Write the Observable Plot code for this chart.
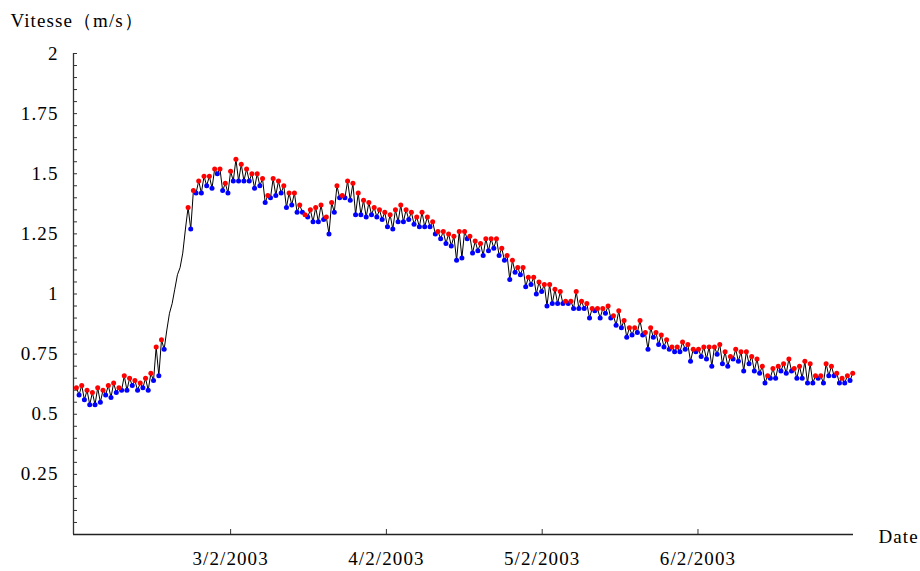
<!DOCTYPE html>
<html><head><meta charset="utf-8">
<script src="https://cdn.jsdelivr.net/npm/d3@7"></script>
<script src="https://cdn.jsdelivr.net/npm/@observablehq/plot@0.6"></script>
<style>html,body{margin:0;padding:0;background:#fff;}</style>
</head><body><div id="chart"></div>
<script>
// Tick labels
const yTicks = [0.25, 0.5, 0.75, 1, 1.25, 1.5, 1.75, 2];
const dateLabels = ["3/2/2003", "4/2/2003", "5/2/2003", "6/2/2003"];
const datePos = [58, 116.6, 175.2, 233.8];   // sample index where each date falls
const xDomain = [-1.1, 292.3];

// Tidal peak velocities (m/s), in time order; red = pics, blue = creux
const pics1 = [0.61,0.62,0.60,0.59,0.61,0.60,0.62,0.63,0.61,0.66,0.65,0.64,0.63,0.65,0.67,0.78,0.81];
const creux1 = [0.58,0.56,0.54,0.54,0.55,0.58,0.57,0.59,0.60,0.60,0.62,0.60,0.61,0.60,0.64,0.66,0.77];
const montee = [0.85,0.92,0.96,1.02,1.08,1.11,1.17,1.27];
const pics2 = [1.36,1.43,1.47,1.49,1.49,1.52,1.52,1.46,1.51,1.56,1.54,1.52,1.50,1.50,1.48,1.41,1.48,1.47,1.45,1.42,1.42,1.37,1.33,1.35,1.36,1.37];
const creux2 = [1.27,1.42,1.42,1.45,1.44,1.50,1.43,1.42,1.47,1.47,1.47,1.47,1.44,1.45,1.38,1.40,1.41,1.42,1.36,1.37,1.34,1.34,1.32,1.30,1.30,1.31];
const pics3 = [1.32,1.38,1.45,1.41,1.47,1.46,1.42,1.39,1.38,1.36,1.35,1.34,1.33,1.35,1.37,1.35,1.34,1.32,1.34,1.32,1.30,1.26,1.26,1.25,1.24,1.26,1.26,1.24,1.22,1.21];
const creux3 = [1.25,1.34,1.40,1.40,1.39,1.33,1.33,1.32,1.33,1.32,1.31,1.28,1.27,1.30,1.30,1.31,1.29,1.28,1.28,1.28,1.25,1.23,1.21,1.20,1.14,1.15,1.23,1.17,1.18];
const creux4 = [1.16,1.18,1.19,1.16,1.14,1.06,1.09,1.08,1.03,1.04,1.00,1.01,0.95,0.96,0.96,0.96,0.96,0.94,0.94,0.94,0.90,0.93,0.90,0.92,0.90,0.87,0.86,0.82,0.83,0.84,0.83,0.77];
const pics4 = [1.23,1.23,1.23,1.19,1.16,1.14,1.11,1.11,1.07,1.07,1.05,1.04,1.04,1.02,1.01,0.97,0.97,1.01,0.97,0.96,0.94,0.94,0.94,0.95,0.91,0.93,0.89,0.86,0.86,0.89,0.84];
const pics5 = [0.86,0.84,0.83,0.81,0.78,0.78,0.80,0.79,0.77,0.77,0.78,0.78,0.78,0.79,0.76,0.74,0.77,0.76,0.76,0.74,0.73,0.70,0.66,0.69,0.70,0.71,0.73,0.69,0.70,0.72,0.71,0.66,0.66,0.71,0.70,0.67,0.65,0.66,0.67];
const creux5 = [0.82,0.79,0.78,0.77,0.76,0.76,0.77,0.72,0.76,0.74,0.73,0.70,0.75,0.71,0.70,0.73,0.72,0.68,0.71,0.68,0.67,0.63,0.65,0.65,0.68,0.67,0.68,0.65,0.65,0.63,0.63,0.65,0.63,0.66,0.66,0.63,0.63,0.64];

const serie = [];
function alterner(a, typeA, b, typeB) {
  for (let k = 0; k < Math.max(a.length, b.length); k++) {
    if (k < a.length) serie.push({v: a[k], type: typeA});
    if (k < b.length) serie.push({v: b[k], type: typeB});
  }
}
alterner(pics1, "pic", creux1, "creux");
montee.forEach(v => serie.push({v, type: "ligne"}));
alterner(pics2, "pic", creux2, "creux");
alterner(pics3, "pic", creux3, "creux");
alterner(creux4, "creux", pics4, "pic");
alterner(pics5, "pic", creux5, "creux");
serie.forEach((d, i) => d.t = i);

const graduations = d3.range(1, 41).map(k => +(k * 0.05).toFixed(2));
const font = "'Liberation Serif', 'Times New Roman', serif";

const chart = Plot.plot({
  width: 920, height: 571,
  marginTop: 53, marginRight: 67, marginBottom: 37, marginLeft: 73,
  x: {domain: xDomain},
  y: {domain: [0, 2]},
  style: {fontFamily: font, fontSize: "19px", letterSpacing: "1.1px", background: "#fff", color: "#000"},
  marks: [
    Plot.axisY({ticks: graduations, tickSize: 4, dx: 4, tickFormat: () => "", label: null, stroke: "#333"}),
    Plot.axisY({ticks: yTicks, tickSize: 0, tickPadding: 15, tickFormat: d => String(d), label: null, fontSize: 19, fill: "#000"}),
    Plot.axisX({ticks: datePos, tickSize: 5, dy: -5, tickFormat: () => "", label: null, stroke: "#333"}),
    Plot.axisX({ticks: datePos, tickSize: 0, tickPadding: 17, tickFormat: d => dateLabels[datePos.indexOf(d)], label: null, fontSize: 19, fill: "#000"}),
    Plot.ruleX([xDomain[0]], {stroke: "#333", strokeWidth: 1.3}),
    Plot.ruleY([0], {stroke: "#222", strokeWidth: 1.3}),
    Plot.line(serie, {x: "t", y: "v", stroke: "#000", strokeWidth: 1}),
    Plot.dot(serie.filter(d => d.type === "creux"), {x: "t", y: "v", r: 2.5, fill: "#0000ff"}),
    Plot.dot(serie.filter(d => d.type === "pic"), {x: "t", y: "v", r: 2.5, fill: "#ff0000"}),
    Plot.text(["Vitesse（m/s）"], {frameAnchor: "top-left", dx: -63, dy: -27, textAnchor: "start", lineAnchor: "bottom", fontSize: 19, fill: "#000"}),
    Plot.text(["Date"], {frameAnchor: "bottom-right", dx: 25, dy: 8, textAnchor: "start", lineAnchor: "bottom", fontSize: 19, fill: "#000"})
  ]
});
document.getElementById("chart").appendChild(chart);
</script></body></html>
